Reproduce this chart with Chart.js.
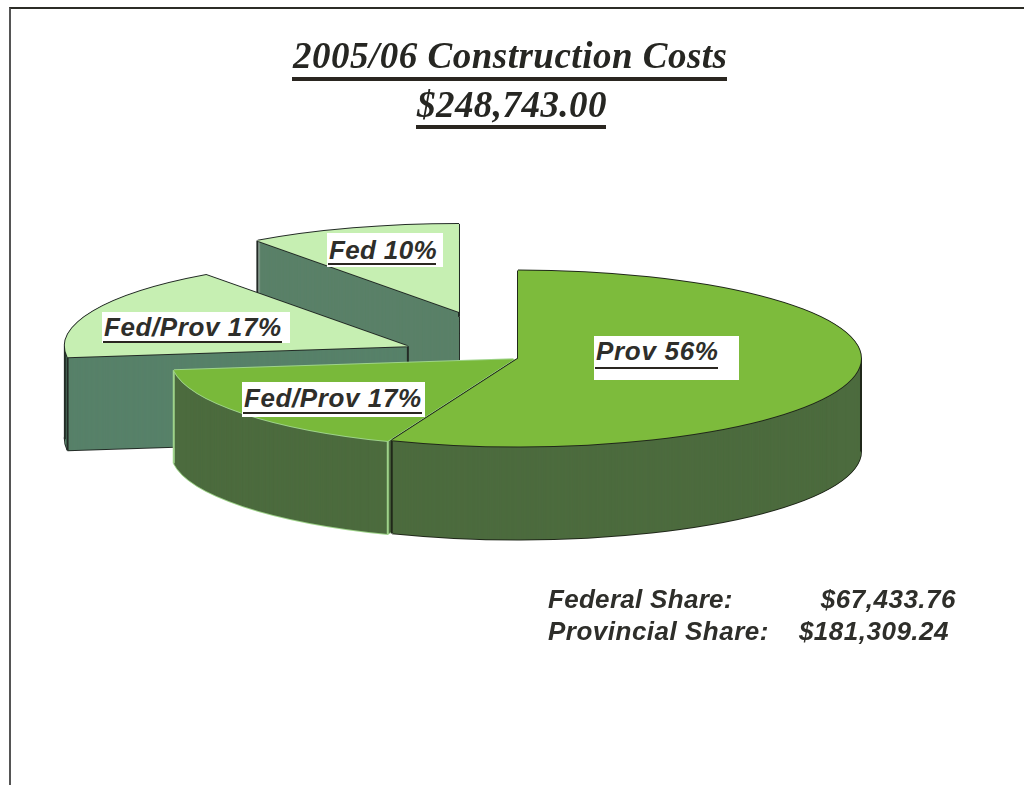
<!DOCTYPE html>
<html>
<head>
<meta charset="utf-8">
<script src="https://cdn.jsdelivr.net/npm/chart.js@4"></script>
<style>
  html, body { margin: 0; padding: 0; background: #fff; overflow: hidden; }
  #page { position: relative; width: 1024px; height: 785px; overflow: hidden; }
  #frame { position: absolute; left: 9px; top: 7px; right: -4px; bottom: -4px;
           border-top: 2px solid #2c2c26; border-left: 2px solid #555; }
  canvas { position: absolute; left: 0; top: 0; }
  .txt { position: absolute; white-space: nowrap; line-height: 30px; height: 30px; }
  .head { font: italic bold 37px "Liberation Serif", serif; line-height: 40px; height: 40px; color: #262622; }
  .rule { position: absolute; background: #2a2620; }
  .tag { position: absolute; background: #fff; }
  .sans { font: italic bold 26px "Liberation Sans", Arial, sans-serif; line-height: 30px; color: #2e2e2a; }
</style>
</head>
<body>
<div id="page">
  <div id="frame"></div>
  <canvas id="pie" width="1024" height="785"></canvas>
</div>
<script>
var categorias = ['Prov', 'Fed/Prov', 'Fed/Prov', 'Fed'];
var percentuais = [56, 17, 17, 10];
var titulos = ['2005/06 Construction Costs', '$248,743.00'];
var partes = ['Federal Share:', 'Provincial Share:'];
var valoresPartes = ['$67,433.76', '$181,309.24'];

var coresTopo = ['#7dbb3c', '#79b93a', '#c6efb2', '#c6efb2'];
var coresLado = ['#4c6b3e', '#4c6b3e', '#578169', '#5a8068'];
var coresBorda = ['#20281a', '#9ed38a', '#232b26', '#232b26'];
var explosao = [0, 5, 120, 191];

var raio = 343;
var achatado = 88 / 343;
var altura = 93;

function colocar(ctx, arc, i, d, dx, dy) {
  var meio = (arc.startAngle + arc.endAngle) / 2;
  ctx.translate(dx, d + dy);
  ctx.translate(arc.x, arc.y);
  ctx.scale(1, achatado);
  ctx.translate(-arc.x, -arc.y);
  ctx.translate(Math.cos(meio) * explosao[i], Math.sin(meio) * explosao[i]);
}

function carimbo(ctx, arc, i, d, cor, dx, dy) {
  var salvo = arc.options;
  ctx.save();
  colocar(ctx, arc, i, d, dx || 0, dy || 0);
  arc.options = Object.assign({}, salvo, { backgroundColor: cor, borderWidth: 0 });
  arc.draw(ctx);
  arc.options = salvo;
  ctx.restore();
}

function contorno(ctx, arc, i, d, cor) {
  carimbo(ctx, arc, i, d, cor, -1, 0);
  carimbo(ctx, arc, i, d, cor, 1, 0);
  carimbo(ctx, arc, i, d, cor, 0, -1);
  carimbo(ctx, arc, i, d, cor, 0, 1);
}

function pontoBorda(arc, i, ang, r) {
  var meio = (arc.startAngle + arc.endAngle) / 2;
  return {
    x: arc.x + Math.cos(meio) * explosao[i] + Math.cos(ang) * r,
    y: arc.y + (Math.sin(meio) * explosao[i] + Math.sin(ang) * r) * achatado
  };
}

// arestas verticais: extremos em x e pontas da frente
function arestas(ctx, arc, i) {
  var pts = [
    { p: pontoBorda(arc, i, arc.startAngle, raio), frente: Math.sin(arc.startAngle) > 0 },
    { p: pontoBorda(arc, i, arc.endAngle, raio), frente: Math.sin(arc.endAngle) > 0 },
    { p: pontoBorda(arc, i, 0, 0), frente: false }
  ];
  [0, Math.PI].forEach(function (a) {
    if (a >= arc.startAngle && a <= arc.endAngle) {
      pts.push({ p: pontoBorda(arc, i, a, raio), frente: false });
    }
  });
  var xs = pts.map(function (q) { return q.p.x; });
  var minX = Math.min.apply(null, xs);
  var maxX = Math.max.apply(null, xs);
  ctx.save();
  ctx.strokeStyle = coresBorda[i];
  ctx.lineWidth = 2;
  pts.forEach(function (q) {
    if (q.frente || q.p.x === minX || q.p.x === maxX) {
      ctx.beginPath();
      ctx.moveTo(q.p.x, q.p.y);
      ctx.lineTo(q.p.x, q.p.y + altura);
      ctx.stroke();
    }
  });
  ctx.restore();
}

var pizza3d = {
  id: 'pizza3d',
  beforeDatasetsDraw: function (chart) {
    var ctx = chart.ctx;
    var arcos = chart.getDatasetMeta(0).data;
    for (var i = arcos.length - 1; i >= 0; i--) {
      var arc = arcos[i];
      contorno(ctx, arc, i, altura, coresBorda[i]);
      for (var d = altura; d > 0; d--) {
        carimbo(ctx, arc, i, d, coresLado[i]);
      }
      arestas(ctx, arc, i);
      contorno(ctx, arc, i, 0, coresBorda[i]);
      carimbo(ctx, arc, i, 0, coresTopo[i]);
    }
    return false;
  }
};

new Chart(document.getElementById('pie').getContext('2d'), {
  type: 'pie',
  data: {
    labels: categorias,
    datasets: [{ data: percentuais, backgroundColor: coresTopo, borderWidth: 0 }]
  },
  options: {
    responsive: false,
    animation: false,
    radius: raio,
    layout: { padding: { left: 12, bottom: 68 } },
    plugins: { legend: { display: false }, tooltip: { enabled: false } }
  },
  plugins: [pizza3d]
});

// textos
var page = document.getElementById('page');

function caixa(cls, txt, css) {
  var el = document.createElement('div');
  el.className = cls;
  el.textContent = txt;
  Object.assign(el.style, css);
  page.appendChild(el);
  return el;
}

caixa('txt head', titulos[0], { left: '293px', top: '36px', letterSpacing: '0.5px' });
caixa('rule', '', { left: '292px', top: '77px', width: '435px', height: '4px' });
caixa('txt head', titulos[1], { left: '417px', top: '85px', letterSpacing: '0.45px' });
caixa('rule', '', { left: '416px', top: '125px', width: '190px', height: '4px' });

var etiquetas = [
  { box: [594, 336, 145, 44], x: 596, base: 360, rule: 367, w: 123, ls: '0.7px' },
  { box: [242, 382, 183, 35], x: 244, base: 407, rule: 412, w: 179, ls: '0.6px' },
  { box: [102, 312, 188, 31], x: 104, base: 336, rule: 341, w: 179, ls: '0.6px' },
  { box: [327, 233, 116, 34], x: 329, base: 259, rule: 263, w: 108, ls: '0.35px' }
];
etiquetas.forEach(function (e, i) {
  caixa('tag', '', { left: e.box[0] + 'px', top: e.box[1] + 'px', width: e.box[2] + 'px', height: e.box[3] + 'px' });
  caixa('txt sans', categorias[i] + ' ' + percentuais[i] + '%', { left: e.x + 'px', top: (e.base - 24) + 'px', letterSpacing: e.ls });
  caixa('rule', '', { left: e.x - 1 + 'px', top: e.rule + 'px', width: e.w + 'px', height: '2px' });
});

caixa('txt sans', partes[0], { left: '548px', top: '584px', letterSpacing: '0.3px' });
caixa('txt sans', partes[1], { left: '548px', top: '616px', letterSpacing: '0.5px' });
caixa('txt sans', valoresPartes[0], { right: '68px', top: '584px', letterSpacing: '0.5px' });
caixa('txt sans', valoresPartes[1], { right: '75px', top: '616px', letterSpacing: '0.5px' });
</script>
</body>
</html>
